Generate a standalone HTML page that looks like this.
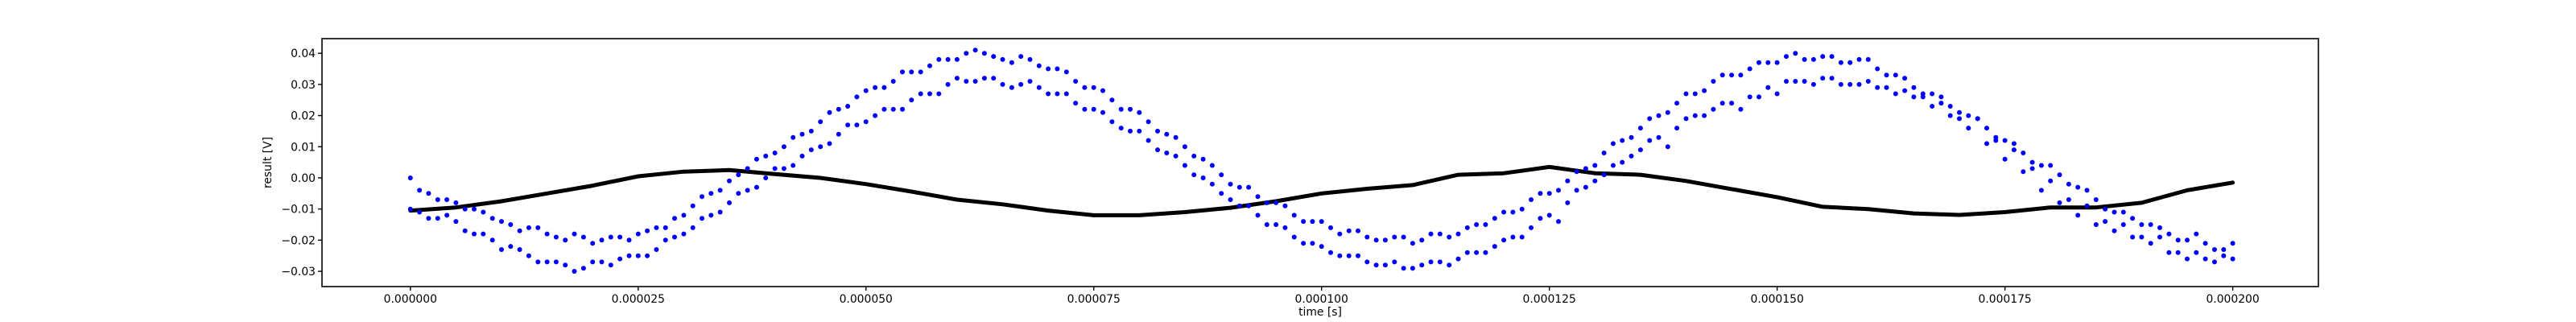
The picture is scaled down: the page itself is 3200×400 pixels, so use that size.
<!DOCTYPE html>
<html><head><meta charset="utf-8"><style>
html,body{margin:0;padding:0;background:#fff;}
svg{display:block;font-family:"DejaVu Sans","Liberation Sans",sans-serif;}
</style></head><body>
<svg id="chart" width="3200" height="400" viewBox="0 0 3200 400" xmlns="http://www.w3.org/2000/svg">
<rect x="0" y="0" width="3200" height="400" fill="#fff"/>
<g id="plot"></g>
<g id="axes"></g>
</svg>
<script>
// x in microseconds, values in mV
const xTicks = [0, 25, 50, 75, 100, 125, 150, 175, 200];
const xTickLabels = ["0.000000","0.000025","0.000050","0.000075","0.000100","0.000125","0.000150","0.000175","0.000200"];
const yTicks = [-30, -20, -10, 0, 10, 20, 30, 40];
const yTickLabels = ["\u22120.03","\u22120.02","\u22120.01","0.00","0.01","0.02","0.03","0.04"];
const blueStep = 2;
// even samples (t = 0,2,4,...)
const blueUpper = [0,-5,-7,-10,-11,-14,-17,-16,-19,-18,-21,-19,-20,-17,-16,-12,-6,-4,1,6,8,13,15,21,23,28,29,34,34,38,38,41,39,37,38,35,34,29,28,22,21,15,13,7,4,-2,-3,-8,-9,-14,-14,-18,-17,-20,-19,-21,-18,-19,-16,-15,-11,-10,-5,-4,2,4,11,13,19,21,27,28,33,33,37,37,40,38,39,37,38,33,32,27,26,21,19,13,11,5,4,-2,-4,-10,-11,-15,-16,-20,-18,-23,-21];
const blueLower = [-10,-13,-12,-17,-18,-23,-23,-27,-27,-30,-27,-28,-25,-25,-20,-18,-13,-11,-5,-3,3,4,9,11,17,18,22,22,27,27,32,31,32,29,31,27,27,22,21,16,15,9,7,1,-2,-7,-9,-15,-16,-21,-22,-25,-25,-28,-27,-29,-27,-28,-24,-24,-20,-19,-13,-14,-4,-1,4,7,12,10,19,20,24,22,26,27,31,30,32,30,31,29,28,26,24,19,19,12,9,3,-1,-7,-9,-14,-15,-19,-19,-24,-24,-27,-26];
// odd samples (t = 1,3,5,...)
const blueUpperOdd = [-4,-7,-8,-10,-13,-15,-16,-18,-20,-19,-20,-19,-18,-16,-13,-9,-5,-1,3,7,10,14,18,22,26,29,31,34,36,38,40,40,38,39,36,35,31,29,25,22,18,14,10,6,1,-3,-6,-8,-12,-14,-16,-17,-19,-20,-19,-20,-18,-18,-15,-13,-11,-7,-5,-1,3,8,12,16,20,24,27,31,33,35,37,39,38,39,37,38,35,33,29,27,23,20,16,12,8,4,1,-3,-7,-11,-13,-15,-18,-20,-21,-23];
const blueLowerOdd = [-11,-13,-14,-18,-20,-22,-25,-27,-28,-29,-27,-26,-25,-23,-19,-16,-12,-8,-4,0,3,7,10,14,17,20,22,25,27,30,31,32,30,30,29,27,24,22,18,15,12,8,4,0,-5,-9,-12,-15,-19,-21,-24,-25,-27,-28,-29,-28,-27,-26,-24,-22,-19,-16,-12,-8,-3,1,5,9,13,16,20,22,24,26,29,31,31,32,30,30,29,27,26,23,20,16,11,6,2,-4,-8,-12,-15,-17,-19,-21,-24,-26,-26,-25];
const blackStep = 5;
const blackValues = [-10.5,-9.5,-7.5,-5,-2.5,0.5,2,2.5,1.2,0,-2,-4.4,-7,-8.5,-10.5,-12,-12,-11,-9.6,-7.5,-5,-3.5,-2.3,1,1.5,3.5,1.5,1,-1,-3.6,-6.2,-9.3,-10,-11.4,-11.9,-11,-9.5,-9.5,-8,-4,-1.5];

const L=400,R=2880,T=48,B=356;
const X0=-9.7,X1=209.4,Y0=-34.9,Y1=44.7;
function sx(t){return L+(t-X0)/(X1-X0)*(R-L);}
function sy(v){return B-(v-Y0)/(Y1-Y0)*(B-T);}
const NS="http://www.w3.org/2000/svg";
const plot=document.getElementById('plot'), axes=document.getElementById('axes');
function mk(tag,attrs,parent){const e=document.createElementNS(NS,tag);for(const k in attrs)e.setAttribute(k,attrs[k]);parent.appendChild(e);return e;}

// black series
let pts=blackValues.map((v,i)=>sx(i*blackStep).toFixed(1)+","+sy(v).toFixed(1)).join(" ");
const bl=mk('polyline',{points:pts,fill:'none',stroke:'#000','stroke-width':5,'stroke-linejoin':'round','stroke-linecap':'round'},plot);



// blue series
[[blueUpper,0,'blue-point-upper'],[blueLower,0,'blue-point-lower'],[blueUpperOdd,1,'blue-point-upper'],[blueLowerOdd,1,'blue-point-lower']].forEach(([arr,off,nm])=>{
  arr.forEach((v,i)=>{
    const c=mk('circle',{cx:sx(off+i*blueStep).toFixed(1),cy:sy(v).toFixed(1),r:3,fill:'#0000ff'},plot);
    
    
  });
});

// frame
const fr=mk('rect',{x:L,y:T,width:R-L,height:B-T,fill:'none',stroke:'#000','stroke-width':1.6},axes);



xTicks.forEach((t,i)=>{
  const x=sx(t);
  const ln=mk('line',{x1:x,y1:B,x2:x,y2:B+5,stroke:'#000','stroke-width':1.4},axes);
  
  
  const tx=mk('text',{x:x,y:B+20,'text-anchor':'middle','font-size':'13.9px',fill:'#000'},axes);
  tx.textContent=xTickLabels[i];
  
  
});
yTicks.forEach((v,i)=>{
  const y=sy(v);
  const ln=mk('line',{x1:L-5,y1:y,x2:L,y2:y,stroke:'#000','stroke-width':1.4},axes);
  
  
  const tx=mk('text',{x:L-8,y:y+5,'text-anchor':'end','font-size':'13.9px',fill:'#000'},axes);
  tx.textContent=yTickLabels[i];
  
  
});
const xl=mk('text',{x:(L+R)/2,y:B+36,'text-anchor':'middle','font-size':'13.9px',fill:'#000'},axes);
xl.textContent='time [s]';


const yl=mk('text',{x:0,y:0,'text-anchor':'middle','font-size':'13.9px',fill:'#000',transform:'translate(337,'+((T+B)/2)+') rotate(-90)'},axes);
yl.textContent='result [V]';


</script>
</body></html>
